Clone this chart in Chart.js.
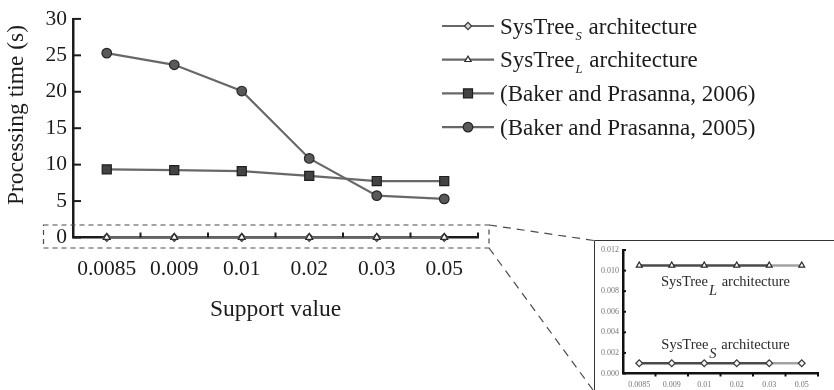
<!DOCTYPE html>
<html>
<head>
<meta charset="utf-8">
<script src="https://cdn.jsdelivr.net/npm/chart.js@4.4.1/dist/chart.umd.min.js"></script>
<style>
  html, body { margin: 0; padding: 0; background: #fff; }
  #wrap { position: relative; width: 834px; height: 390px; overflow: hidden; }
  #main { position: absolute; left: 0; top: 0; }
  #inset { position: absolute; left: 594px; top: 240px; }
</style>
</head>
<body>
<div id="wrap">
  <canvas id="main" width="834" height="390"></canvas>
  <canvas id="inset" width="240" height="150"></canvas>
</div>
<script>
// Support values on the x axis
const supportValues = ['0.0085', '0.009', '0.01', '0.02', '0.03', '0.05'];

// Processing time in seconds for each approach
const sysTreeS = [0.001, 0.001, 0.001, 0.001, 0.001, 0.001];
const sysTreeL = [0.0105, 0.0105, 0.0105, 0.0105, 0.0105, 0.0105];
const baker2006 = [9.35, 9.25, 9.1, 8.45, 7.75, 7.75];
const baker2005 = [25.3, 23.7, 20.1, 10.85, 5.75, 5.3];

// Tick values for the two y axes
const mainYTicks = [0, 5, 10, 15, 20, 25, 30];
const insetYTicks = [0, 0.002, 0.004, 0.006, 0.008, 0.010, 0.012];

// Legend names: base text, italic subscript, trailing text
const seriesBase = ['SysTree', 'SysTree', '(Baker and Prasanna, 2006)', '(Baker and Prasanna, 2005)'];
const seriesSub = ['S', 'L', '', ''];
const seriesTail = [' architecture', ' architecture', '', ''];

const yTitle = 'Processing time (s)';
const xTitle = 'Support value';

const SERIF = '"Liberation Serif", "DejaVu Serif", serif';
const INK = '#1c1c1c';
const LINE = '#686868';

const styleS = { pointStyle: 'rectRot', pointRadius: 4, pointBackgroundColor: '#d4d4d4', pointBorderColor: '#3a3a3a' };
const styleL = { pointStyle: 'triangle', pointRadius: 4, pointBackgroundColor: '#ffffff', pointBorderColor: '#2a2a2a' };
const style06 = { pointStyle: 'rect', pointRadius: 6.4, pointBackgroundColor: '#434343', pointBorderColor: '#1e1e1e' };
const style05 = { pointStyle: 'circle', pointRadius: 4.8, pointBackgroundColor: '#595959', pointBorderColor: '#262626' };

function lineSet(label, data, st, order) {
  return Object.assign({
    label, data, order,
    borderColor: LINE, borderWidth: 2.2,
    pointBorderWidth: 1.2, pointHoverRadius: st.pointRadius,
    clip: false, tension: 0, fill: false
  }, st);
}

// Inner tick marks, y title, zoom box, connectors and legend for the main chart
const mainDecor = {
  id: 'mainDecor',
  afterDraw(chart) {
    const { ctx, chartArea: a, scales: { x, y } } = chart;
    ctx.save();
    ctx.strokeStyle = INK;
    ctx.lineWidth = 2;
    // y ticks pointing into the plot
    mainYTicks.forEach(v => {
      const py = y.getPixelForValue(v);
      ctx.beginPath(); ctx.moveTo(a.left, py); ctx.lineTo(a.left + 8, py); ctx.stroke();
    });
    // x ticks at category boundaries pointing up
    for (let i = 1; i <= supportValues.length; i++) {
      const px = x.getPixelForValue(i - 0.5);
      ctx.beginPath(); ctx.moveTo(px, a.bottom); ctx.lineTo(px, a.bottom - 5); ctx.stroke();
    }

    // rotated y axis title
    ctx.save();
    ctx.translate(17, 115);
    ctx.rotate(-Math.PI / 2);
    ctx.font = '23.5px ' + SERIF;
    ctx.fillStyle = INK;
    ctx.textAlign = 'center';
    ctx.textBaseline = 'middle';
    ctx.fillText(yTitle, 0, 0);
    ctx.restore();

    // dashed box around the zero band and the connectors to the inset
    const y0 = y.getPixelForValue(0);
    const bx0 = 43.5, bx1 = a.right + 11, by0 = y0 - 12.5, by1 = y0 + 10.5;
    ctx.strokeStyle = '#4a4a4a';
    ctx.lineWidth = 1.2;
    ctx.setLineDash([5, 4]);
    ctx.strokeRect(bx0, by0, bx1 - bx0, by1 - by0);
    ctx.setLineDash([8, 6]);
    ctx.beginPath(); ctx.moveTo(bx1, by0); ctx.lineTo(594, 240.5); ctx.stroke();
    ctx.beginPath(); ctx.moveTo(bx1, by1); ctx.lineTo(593, 390); ctx.stroke();
    ctx.setLineDash([]);

    // inset frame
    ctx.strokeStyle = '#333';
    ctx.lineWidth = 1;
    ctx.beginPath(); ctx.moveTo(594.5, 390); ctx.lineTo(594.5, 240.5); ctx.lineTo(834, 240.5); ctx.stroke();

    // legend
    [0, 1, 2, 3].forEach(i => {
      const ds = chart.data.datasets[i];
      const ry = 26 + i * 33.7;
      ctx.strokeStyle = ds.borderColor;
      ctx.lineWidth = 2.2;
      ctx.beginPath(); ctx.moveTo(442, ry); ctx.lineTo(494, ry); ctx.stroke();
      ctx.fillStyle = ds.pointBackgroundColor;
      ctx.strokeStyle = ds.pointBorderColor;
      ctx.lineWidth = 1.2;
      const r = i < 2 ? 3.6 : ds.pointRadius;
      Chart.helpers.drawPoint(ctx, { pointStyle: ds.pointStyle, radius: r, rotation: 0, borderWidth: 1.2 }, 468, ry);

      ctx.fillStyle = INK;
      ctx.textBaseline = 'alphabetic';
      ctx.textAlign = 'left';
      let tx = 500;
      const base = ry + 7.5;
      ctx.font = '23px ' + SERIF;
      ctx.fillText(seriesBase[i], tx, base);
      tx += ctx.measureText(seriesBase[i]).width;
      if (seriesSub[i]) {
        ctx.font = 'italic 12.5px ' + SERIF;
        ctx.fillText(seriesSub[i], tx + 1, base + 6);
        tx += ctx.measureText(seriesSub[i]).width + 2;
      }
      if (seriesTail[i]) {
        ctx.font = '23px ' + SERIF;
        ctx.fillText(seriesTail[i], tx, base);
      }
    });
    ctx.restore();
  }
};

new Chart(document.getElementById('main'), {
  type: 'line',
  data: {
    labels: supportValues,
    datasets: [
      lineSet('SysTree_S architecture', sysTreeS, styleS, 1),
      lineSet('SysTree_L architecture', sysTreeL, styleL, 0),
      lineSet('(Baker and Prasanna, 2006)', baker2006, style06, 3),
      lineSet('(Baker and Prasanna, 2005)', baker2005, style05, 2)
    ]
  },
  options: {
    responsive: false,
    animation: false,
    events: [],
    layout: { padding: { left: 0, right: 356, top: 15, bottom: 0 } },
    plugins: { legend: { display: false }, tooltip: { enabled: false } },
    scales: {
      x: {
        type: 'category',
        offset: true,
        grid: { display: false, drawTicks: false },
        border: { display: true, color: INK, width: 2.5 },
        ticks: { font: { family: SERIF, size: 21.5 }, color: INK, padding: 19, maxRotation: 0, autoSkip: false },
        title: { display: true, text: xTitle, font: { family: SERIF, size: 23.5 }, color: INK, padding: { top: 0, bottom: 66 } },
        afterFit(s) { s.height = 152.5; }
      },
      y: {
        min: 0, max: 30,
        afterBuildTicks(s) { s.ticks = mainYTicks.map(v => ({ value: v })); },
        grid: { display: false, drawTicks: false },
        border: { display: true, color: INK, width: 2.5 },
        ticks: { font: { family: SERIF, size: 21.5 }, color: INK, padding: 6 },
        afterFit(s) { s.width = 73; }
      }
    }
  },
  plugins: [mainDecor]
});

// Tick marks and series captions for the inset
const insetDecor = {
  id: 'insetDecor',
  afterDraw(chart) {
    const { ctx, chartArea: a, scales: { x, y } } = chart;
    ctx.save();
    ctx.strokeStyle = '#111';
    ctx.lineWidth = 2;
    insetYTicks.forEach(v => {
      const py = y.getPixelForValue(v);
      ctx.beginPath(); ctx.moveTo(a.left, py); ctx.lineTo(a.left + 3, py); ctx.stroke();
    });
    for (let i = 1; i <= supportValues.length; i++) {
      const px = x.getPixelForValue(i - 0.5);
      ctx.beginPath(); ctx.moveTo(px, a.bottom); ctx.lineTo(px, a.bottom + 3); ctx.stroke();
    }

    const cx = (a.left + a.right) / 2 + 5;
    const captions = [
      { sub: 'L', y: y.getPixelForValue(sysTreeL[0]) + 21 },
      { sub: 'S', y: y.getPixelForValue(sysTreeS[0]) - 14 }
    ];
    ctx.fillStyle = '#2a2a2a';
    ctx.textBaseline = 'alphabetic';
    ctx.textAlign = 'left';
    captions.forEach(c => {
      ctx.font = '14.5px ' + SERIF;
      const w1 = ctx.measureText('SysTree').width;
      const w3 = ctx.measureText(' architecture').width;
      ctx.font = 'italic 14.5px ' + SERIF;
      const w2 = ctx.measureText(c.sub).width;
      let tx = cx - (w1 + w2 + w3 + 2) / 2;
      ctx.font = '14.5px ' + SERIF;
      ctx.fillText('SysTree', tx, c.y);
      tx += w1 + 1;
      ctx.font = 'italic 14.5px ' + SERIF;
      ctx.fillText(c.sub, tx, c.y + 9);
      tx += w2 + 1;
      ctx.font = '14.5px ' + SERIF;
      ctx.fillText(' architecture', tx, c.y);
    });
    ctx.restore();
  }
};

function insetSet(label, data, st) {
  return Object.assign({
    label, data,
    borderWidth: 2.4,
    segment: { borderColor: c => (c.p0DataIndex === supportValues.length - 2 ? '#a3a3a3' : '#4a4a4a') },
    borderColor: '#4a4a4a',
    pointBorderWidth: 1.2,
    clip: false, tension: 0, fill: false
  }, st, { pointRadius: 3.4 });
}

new Chart(document.getElementById('inset'), {
  type: 'line',
  data: {
    labels: supportValues,
    datasets: [
      insetSet('SysTree_S architecture', sysTreeS, Object.assign({}, styleS, { pointBackgroundColor: '#f4f4f4' })),
      insetSet('SysTree_L architecture', sysTreeL, styleL)
    ]
  },
  options: {
    responsive: false,
    animation: false,
    events: [],
    layout: { padding: { left: 0, right: 16, top: 10, bottom: 0 } },
    plugins: { legend: { display: false }, tooltip: { enabled: false } },
    scales: {
      x: {
        type: 'category',
        offset: true,
        grid: { display: false, drawTicks: false },
        border: { display: true, color: '#111', width: 2.5 },
        ticks: { font: { family: SERIF, size: 8 }, color: '#777', padding: 7, maxRotation: 0, autoSkip: false },
        afterFit(s) { s.height = 16.5; }
      },
      y: {
        min: 0, max: 0.012,
        afterBuildTicks(s) { s.ticks = insetYTicks.map(v => ({ value: v })); },
        grid: { display: false, drawTicks: false },
        border: { display: true, color: '#111', width: 2.5 },
        ticks: { font: { family: SERIF, size: 8 }, color: '#777', padding: 4, callback: v => Number(v).toFixed(3) },
        afterFit(s) { s.width = 29; }
      }
    }
  },
  plugins: [insetDecor]
});
</script>
</body>
</html>
